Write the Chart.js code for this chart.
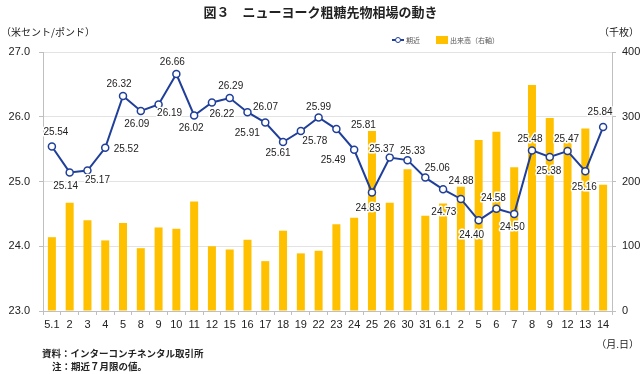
<!DOCTYPE html>
<html lang="ja">

<head>
    <meta charset="UTF-8">
    <title>図３ ニューヨーク粗糖先物相場の動き</title>
    <script src="https://cdn.jsdelivr.net/npm/chart.js@4/dist/chart.umd.min.js"></script>
    <style>
        body { margin: 0; background: #fff; font-family: "Noto Sans CJK JP", sans-serif; color: #222; }
        .wrap { position: relative; width: 641px; height: 374px; overflow: hidden; }
        canvas { position: absolute; left: 0; top: 0; }
        .txt { position: absolute; white-space: nowrap; line-height: 1; }
        .title { top: 5px; left: 0; width: 641px; text-align: center; font-size: 13px; font-weight: bold; }
        .unit-l { top: 27px; left: 1px; font-size: 10px; }
        .unit-r { top: 27px; right: 2px; font-size: 10px; }
        .legend { top: 36px; left: 392px; font-size: 7px; color: #555; display: flex; align-items: center; }
        .lg-line { position: relative; width: 12px; height: 2px; background: #203f9a; margin-right: 2px; }
        .lg-line::after { content: ""; position: absolute; left: 3px; top: -2px; width: 4px; height: 4px; border: 1px solid #203f9a; border-radius: 50%; background: #fff; }
        .lg-box { width: 12px; height: 8px; background: #ffc000; margin: 0 2px 0 16px; }
        .md { top: 339px; right: 2px; font-size: 10px; }
        .note { left: 42px; font-size: 9.5px; font-weight: bold; }
    </style>
</head>

<body>
    <div class="wrap">
        <canvas id="sugarChart" width="641" height="374"></canvas>
        <div class="txt title">図３　ニューヨーク粗糖先物相場の動き</div>
        <div class="txt unit-l">（米セント/ポンド）</div>
        <div class="txt unit-r">（千枚）</div>
        <div class="txt legend"><span class="lg-line"></span>期近<span class="lg-box"></span>出来高（右軸）</div>
        <div class="txt md">（月.日）</div>
        <div class="txt note" style="top:349px">資料：インターコンチネンタル取引所</div>
        <div class="txt note" style="top:362px; left:52px">注：期近７月限の値。</div>
    </div>

    <script>
        // dates (month.day)
        const labels = ['5.1', '2', '3', '4', '5', '8', '9', '10', '11', '12', '15', '16', '17', '18', '19', '22',
            '23', '24', '25', '26', '30', '31', '6.1', '2', '5', '6', '7', '8', '9', '12', '13', '14'];

        // front month price (US cents / lb)
        const price = [25.54, 25.14, 25.17, 25.52, 26.32, 26.09, 26.19, 26.66, 26.02, 26.22, 26.29, 26.07, 25.91, 25.61, 25.78, 25.99,
            25.81, 25.49, 24.83, 25.37, 25.33, 25.06, 24.88, 24.73, 24.40, 24.58, 24.50, 25.48, 25.38, 25.47, 25.16, 25.84];

        // volume (thousand lots, right axis)
        const volume = [114, 167, 140, 109, 136, 97, 129, 127, 169, 100, 95, 110, 77, 124, 89, 93,
            134, 144, 278, 167, 219, 147, 166, 192, 264, 277, 222, 349, 298, 260, 282, 195];

        // where each value label sits relative to its point [dx, dy]
        const labelOffsets = [[4, -14], [-4, 14], [10, 10], [21, 1], [-4, -12], [-4, 13], [11, 9], [-4, -12],
            [-3, 13], [10, 12], [1, -12], [18, -5], [-18, 11], [-5, 11], [14, 10], [0, -10],
            [27, -4], [-21, 10], [-4, 16], [-8, -8], [5, -9], [12, -9], [18, -8], [-17, 13],
            [-7, 15], [-3, -10], [-2, 13], [-2, -11], [-1, 14], [-1, -12], [-1, 16], [-3, -15]];

        const numFont = '"Liberation Sans", Arial, sans-serif';

        // Draw value labels next to the price points
        const valueLabels = {
            id: 'valueLabels',
            afterDatasetsDraw(chart) {
                const ctx = chart.ctx;
                const meta = chart.getDatasetMeta(0);
                ctx.save();
                ctx.font = '10px ' + numFont;
                ctx.textAlign = 'center';
                ctx.textBaseline = 'middle';
                ctx.lineJoin = 'round';
                meta.data.forEach((pt, i) => {
                    const x = pt.x + labelOffsets[i][0];
                    const y = pt.y + labelOffsets[i][1];
                    const txt = price[i].toFixed(2);
                    ctx.lineWidth = 3;
                    ctx.strokeStyle = '#fff';
                    ctx.strokeText(txt, x, y);
                    ctx.fillStyle = '#222';
                    ctx.fillText(txt, x, y);
                });
                ctx.restore();
            }
        };

        const chart = new Chart(document.getElementById('sugarChart').getContext('2d'), {
            type: 'bar',
            data: {
                labels: labels,
                datasets: [{
                    type: 'line',
                    label: '期近',
                    data: price,
                    yAxisID: 'y',
                    borderColor: '#203f9a',
                    borderWidth: 2,
                    pointRadius: 3.5,
                    pointBackgroundColor: '#fff',
                    pointBorderColor: '#203f9a',
                    pointBorderWidth: 1.5,
                    tension: 0,
                    order: 0
                }, {
                    type: 'bar',
                    label: '出来高（右軸）',
                    data: volume,
                    yAxisID: 'y1',
                    backgroundColor: '#ffc000',
                    barPercentage: 0.9,
                    categoryPercentage: 0.5,
                    order: 1
                }]
            },
            options: {
                responsive: false,
                animation: false,
                layout: { padding: { top: 52, left: 0, right: 0, bottom: 0 } },
                plugins: {
                    legend: { display: false },
                    tooltip: { enabled: false }
                },
                scales: {
                    x: {
                        offset: true,
                        grid: { offset: true, drawOnChartArea: false, tickLength: 4, tickColor: '#bfbfbf' },
                        border: { color: '#bfbfbf' },
                        ticks: { autoSkip: false, maxRotation: 0, padding: 3, color: '#222', font: { size: 11, family: numFont } },
                        afterFit(s) { s.height = 63; }
                    },
                    y: {
                        position: 'left',
                        min: 23,
                        max: 27,
                        grid: { color: '#e3e3e3', tickLength: 4, tickColor: '#bfbfbf' },
                        border: { color: '#bfbfbf' },
                        ticks: { stepSize: 1, padding: 9, color: '#222', font: { size: 11, family: numFont }, callback: v => v.toFixed(1) },
                        afterFit(s) { s.width = 43; }
                    },
                    y1: {
                        position: 'right',
                        min: 0,
                        max: 400,
                        grid: { drawOnChartArea: false, tickLength: 4, tickColor: '#bfbfbf' },
                        border: { color: '#bfbfbf' },
                        ticks: { stepSize: 100, padding: 6, color: '#222', font: { size: 11, family: numFont } },
                        afterFit(s) { s.width = 29; }
                    }
                }
            },
            plugins: [valueLabels]
        });
    </script>
</body>

</html>
